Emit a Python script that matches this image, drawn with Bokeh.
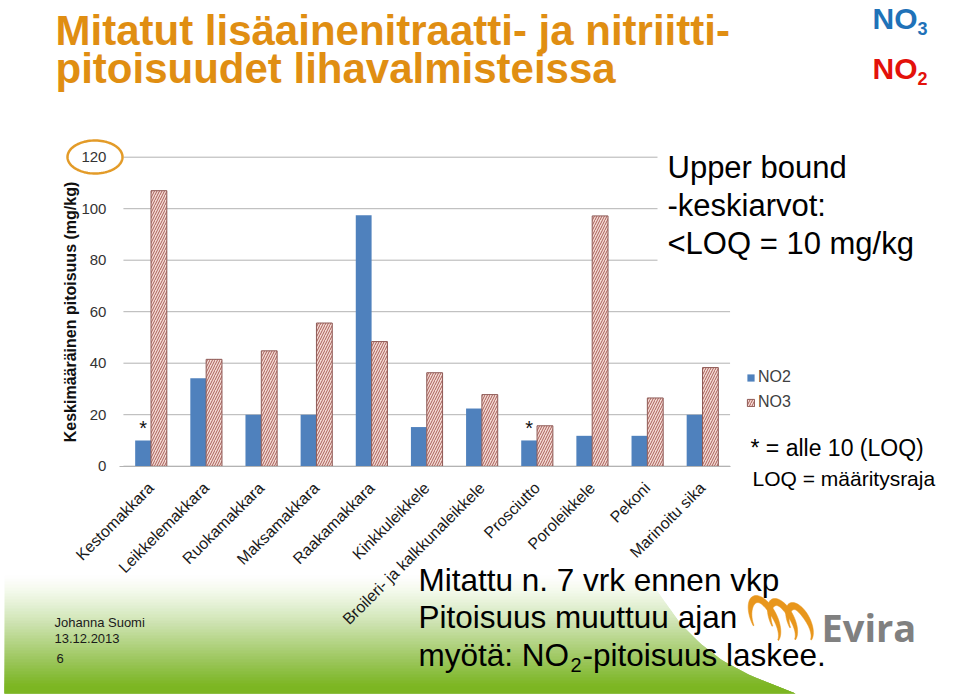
import numpy as np
from math import pi
from bokeh.plotting import figure
from bokeh.models import (Range1d, ColumnDataSource, Label, Legend, LegendItem,
                          BoxAnnotation, PolyAnnotation, FixedTicker)
from bokeh.transform import dodge
from bokeh.core.properties import value
from bokeh.embed import file_html
from bokeh.resources import INLINE

# ---------------- data ----------------
categories = ["Kestomakkara", "Leikkelemakkara", "Ruokamakkara", "Maksamakkara", "Raakamakkara",
              "Kinkkuleikkele", "Broileri- ja kalkkunaleikkele", "Prosciutto", "Poroleikkele",
              "Pekoni", "Marinoitu sika"]
no2 = [10, 34.2, 20, 20, 97.5, 15.2, 22.4, 10, 11.8, 11.8, 20]
no3 = [107, 41.5, 44.8, 55.6, 48.4, 36.3, 27.8, 15.7, 97.2, 26.5, 38.3]
below_loq = ["Kestomakkara", "Prosciutto"]
y_ticks = [0, 20, 40, 60, 80, 100, 120]

# ---------------- layout (slide-sized frame) ----------------
W, H = 960, 696
X0_PX, DX_PX = 150.5, 55.15        # pixel centre of first category, pixels per category
Y0_PX, DY_PX = 465.7, 2.575        # pixel row of value 0, pixels per unit
FONT = "Liberation Sans"

x_range = Range1d(-X0_PX / DX_PX, (W - X0_PX) / DX_PX)
y_range = Range1d(-(H - Y0_PX) / DY_PX, Y0_PX / DY_PX)

p = figure(width=W, height=H, x_range=x_range, y_range=y_range,
           min_border=0, min_border_left=0, min_border_right=0,
           min_border_top=0, min_border_bottom=0,
           output_backend="svg", toolbar_location=None)
p.outline_line_color = None
p.background_fill_color = "white"
p.border_fill_color = "white"
p.xgrid.visible = False
p.ygrid.visible = False

n = len(categories)
idx = list(range(n))
left_edge = -0.5
right_edge = n - 0.5

# y axis drawn at the left edge of the category area
yax = p.yaxis[0]
yax.fixed_location = left_edge
yax.ticker = FixedTicker(ticks=y_ticks)
yax.axis_line_color = None
yax.major_tick_line_color = None
yax.minor_tick_line_color = None
yax.major_label_text_font = FONT
yax.major_label_text_font_size = "15px"
yax.major_label_text_color = "#333333"
yax.major_label_standoff = 11

# x axis drawn at value 0
xax = p.xaxis[0]
xax.fixed_location = 0
xax.ticker = FixedTicker(ticks=idx)
xax.major_label_overrides = {i: c for i, c in enumerate(categories)}
xax.bounds = (left_edge - 0.08, right_edge)
xax.axis_line_color = "#b3b3b3"
xax.major_tick_line_color = None
xax.minor_tick_line_color = None
xax.major_label_orientation = pi / 4
xax.major_label_text_font = FONT
xax.major_label_text_font_size = "16px"
xax.major_label_text_color = "#1a1a1a"
xax.major_label_standoff = 13

# ---------------- helpers (canvas px from top-left) ----------------
def poly(xs, ys, **kw):
    a = PolyAnnotation(xs=[float(v) for v in xs], ys=[float(H - y) for y in ys],
                       xs_units="screen", ys_units="screen", **kw)
    p.add_layout(a)
    return a

BASE_FIX = 0.36   # labels render ~0.36em lower than the requested baseline

def lab(text, x, y, size, color="#000000", bold=False, font=FONT, align="left",
        baseline="alphabetic", angle=0.0):
    yy = y - BASE_FIX * size if baseline == "alphabetic" else y
    p.add_layout(Label(x=x, y=H - yy, x_units="screen", y_units="screen", text=text,
                       text_font=font, text_font_size=f"{size}px", text_color=color,
                       text_font_style="bold" if bold else "normal",
                       text_align=align, text_baseline=baseline, angle=angle))

# ---------------- background: green gradient at the bottom ----------------
bnd_y = [540, 565, 595, 623, 643, 660, 675, 693]
bnd_x = [622, 640, 660, 680, 700, 722, 750, 795]
tops = np.arange(572, 692, 3)
prev = 0.0
for t in tops:
    target = min(1.0, ((t - 572) / 112.0) ** 1.3) * 0.97
    a = 1 - (1 - target) / (1 - prev)
    prev = target
    if a <= 0:
        continue
    ys_ = list(np.arange(t, 693, 3)) + [693]
    xr = [float(np.interp(y, bnd_y, bnd_x)) for y in ys_]
    poly([4] + xr + [4], [t] + ys_ + [693], fill_color="#7ab51d", fill_alpha=float(a),
         line_color=None, level="underlay")

# ---------------- grid lines (from the y ticks) ----------------
grid = p.segment(x0=[left_edge] * len(y_ticks), x1=[right_edge] * len(y_ticks),
                 y0=y_ticks, y1=y_ticks, line_color="#b3b3b3", line_width=1)
grid.level = "underlay"

# ---------------- bars ----------------
src = ColumnDataSource(dict(x=idx, cat=categories, no2=no2, no3=no3))
BW = 0.287
r2 = p.vbar(x=dodge("x", -BW / 2), top="no2", width=BW, source=src,
            fill_color="#4f81bd", line_color=None)
r3 = p.vbar(x=dodge("x", BW / 2), top="no3", width=BW, source=src,
            fill_color="#f4dcd6", line_color="#8e5a56", line_width=1,
            hatch_pattern="/", hatch_color="#a85e58", hatch_scale=5, hatch_weight=1)

star_src = ColumnDataSource(dict(x=[categories.index(c) for c in below_loq],
                                 y=[no2[categories.index(c)] for c in below_loq],
                                 t=["*"] * len(below_loq)))
p.text(x=dodge("x", -BW / 2), y="y", text="t", source=star_src,
       text_align="center", text_baseline="alphabetic", y_offset=-12,
       text_font=value(FONT), text_font_size="20px", text_color="#111111")

legend = Legend(items=[LegendItem(label="NO2", renderers=[r2]),
                       LegendItem(label="NO3", renderers=[r3])],
                location=(746, H - 411), orientation="vertical",
                glyph_width=9, glyph_height=9, label_height=18, label_standoff=3,
                spacing=7, padding=0, margin=0,
                label_text_font=FONT, label_text_font_size="16px", label_text_color="#404040",
                background_fill_alpha=0, border_line_color=None)
p.add_layout(legend)

# white text box covering the upper grid lines on the right
p.add_layout(BoxAnnotation(left=657, right=W, top=H - 140, bottom=H - 288,
                           left_units="screen", right_units="screen",
                           top_units="screen", bottom_units="screen",
                           fill_color="white", fill_alpha=1, line_color=None))

# y-axis title
lab("Keskimääräinen pitoisuus (mg/kg)", 70, 311.5, 16, "#111111", True,
    align="center", baseline="middle", angle=pi / 2)

# orange ellipse around the 120 tick label
th = np.linspace(0, 2 * pi, 90)
poly(94.5 + 27.5 * np.cos(th), 156.5 + 16.5 * np.sin(th),
     fill_color=None, fill_alpha=0, line_color="#e39b28", line_alpha=1, line_width=2.5)

# Evira logo wings (three slanted arches)
wings = [(764, 619, 14, 24), (782, 620, 13, 22), (799, 622, 12, 20)]
for cx, cy, rx, ry in wings:
    ang = np.radians(np.linspace(195, -62, 50))
    frac = np.linspace(0, 1, 50)
    thick = 1.0 + 6.5 * np.sin(pi * frac) ** 1.2
    ox = cx + rx * np.cos(ang)
    oy = cy - ry * np.sin(ang)
    ix = cx + (rx - thick) * np.cos(ang)
    iy = cy - (ry - thick) * np.sin(ang)
    xs = np.concatenate([ox, ix[::-1]])
    ys = np.concatenate([oy, iy[::-1]])
    xs = xs + 0.35 * (ys - cy)          # lean the tails to the lower right
    poly(xs, ys, fill_color="#e8961c", fill_alpha=1, line_color="#e8961c",
         line_alpha=1, line_width=0.5)

# ---------------- texts ----------------
ORANGE = "#e08e12"
lab("Mitatut lisäainenitraatti- ja nitriitti-", 55, 45, 42, ORANGE, True)
lab("pitoisuudet lihavalmisteissa", 55, 83, 42, ORANGE, True)

lab("NO", 872, 29, 30, "#1f72b8", True)
lab("3", 917, 34, 18, "#1f72b8", True)
lab("NO", 872, 79, 30, "#e3120b", True)
lab("2", 917, 84, 18, "#e3120b", True)

lab("Upper bound", 667, 178, 31)
lab("-keskiarvot:", 667, 216, 31)
lab("<LOQ = 10 mg/kg", 667, 254, 31)

lab("* = alle 10 (LOQ)", 750, 456, 23)
lab("LOQ = määritysraja", 752, 486, 21)

lab("Mitattu n. 7 vrk ennen vkp", 418, 591, 31.5)
lab("Pitoisuus muuttuu ajan", 418, 628, 31.5)
lab("myötä: NO", 418, 666, 31.5)
lab("2", 570, 672, 20)
lab("-pitoisuus laskee.", 582, 666, 31.5)

lab("Johanna Suomi", 54, 627, 13, "#1a1a1a")
lab("13.12.2013", 54, 643, 13, "#1a1a1a")
lab("6", 56, 663, 13, "#1a1a1a")

lab("Evira", 821, 640, 38, "#808080", True, font="Open Sans")

open("out.html", "w").write(file_html(p, INLINE))
